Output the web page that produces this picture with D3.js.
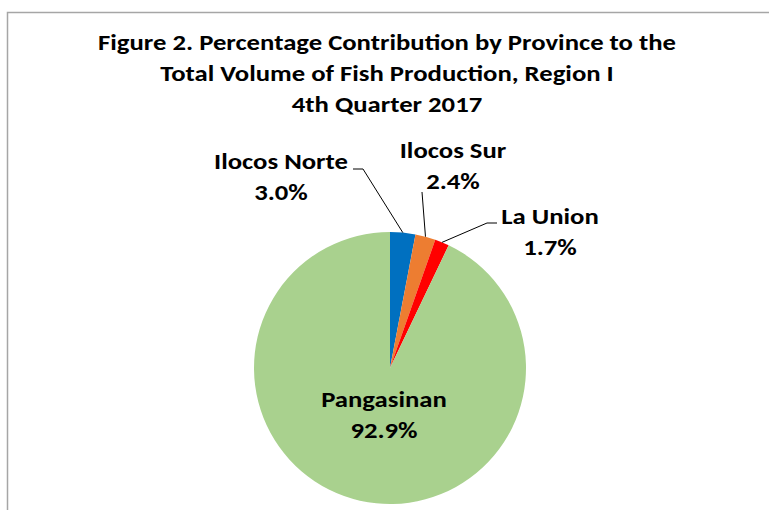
<!DOCTYPE html>
<html><head><meta charset="utf-8">
<script src="https://cdn.jsdelivr.net/npm/d3@7/dist/d3.min.js"></script>
<style>body{margin:0;background:#fff}svg{display:block}</style>
</head><body>
<svg id="c" width="769" height="510"></svg>
<script>
const provinces = ["Ilocos Norte", "Ilocos Sur", "La Union", "Pangasinan"];
const shares = [3.0, 2.4, 1.7, 92.9];
const colors = ["#0070C0", "#ED7D31", "#FF0000", "#A9D18E"];
const titleLines = ["Figure 2. Percentage Contribution by Province to the",
  "Total Volume of Fish Production, Region I", "4th Quarter 2017"];

const FONT = "Carlito, Calibri, 'Liberation Sans Narrow', 'Open Sans', sans-serif";
const svg = d3.select("#c");
// frame
svg.append("path").attr("d", "M7.5,510 V12.5 H769").attr("fill", "none")
  .attr("stroke", "#a6a6a6").attr("stroke-width", 1.5);

const cx = 390, cy = 368, R = 136;
const g = svg.append("g").attr("transform", `translate(${cx},${cy})`);
const pie = d3.pie().sort(null).value(d => d)(shares);
const arc = d3.arc().innerRadius(0).outerRadius(R);
g.selectAll("path.s").data(pie).join("path").attr("class", "s")
  .attr("d", arc).attr("fill", (d, i) => colors[i]);

// title
const titleY = [50, 81, 112];
const tt = svg.append("g").attr("font-family", FONT).attr("font-weight", "bold")
  .attr("font-size", 22.5).attr("text-anchor", "middle").attr("fill", "#000");
titleLines.forEach((t, i) => tt.append("text").attr("x", 387).attr("y", titleY[i]).text(t));

// labels
const labelPos = [
  {x: 281, y: 169, lead: [[363, 169], [353, 169]]},
  {x: 453, y: 158, lead: [[422, 192]]},
  {x: 550, y: 224, lead: [[487, 223], [497, 223]]},
  {x: 384, y: 407, lead: null}
];
const lg = svg.append("g").attr("font-family", FONT).attr("font-weight", "bold")
  .attr("font-size", 22.5).attr("text-anchor", "middle").attr("fill", "#000");
pie.forEach((d, i) => {
  const p = labelPos[i];
  lg.append("text").attr("x", p.x).attr("y", p.y).text(provinces[i]);
  lg.append("text").attr("x", p.x).attr("y", p.y + 31).text(d3.format(".1f")(shares[i]) + "%");
  if (p.lead) {
    const a = (d.startAngle + d.endAngle) / 2;
    const pts = [[cx + R * Math.sin(a), cy - R * Math.cos(a)], ...p.lead];
    svg.append("path").attr("d", d3.line()(pts)).attr("fill", "none")
      .attr("stroke", "#000").attr("stroke-width", 1);
  }
});

// fit width to Calibri metrics
const first = tt.select("text").node();
const w = first.getComputedTextLength();
const ratio = 578 / w;
if (ratio < 0.99 || ratio > 1.01) {
  svg.selectAll("text").each(function () {
    const L = this.getComputedTextLength();
    d3.select(this).attr("textLength", L * ratio).attr("lengthAdjust", "spacingAndGlyphs");
  });
}
</script>
</body></html>
